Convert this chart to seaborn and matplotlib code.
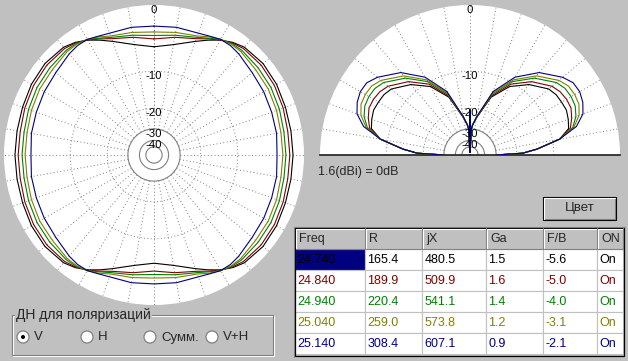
import numpy as np
import matplotlib
matplotlib.use("Agg")
import matplotlib.pyplot as plt
from matplotlib.patches import Rectangle, Circle
import seaborn as sns

# ---------------- data ----------------
freq_labels = ["24.740", "24.840", "24.940", "25.040", "25.140"]
line_colors = ["#000000", "#800000", "#008000", "#808000", "#000080"]

# horizontal pattern, one quadrant (degrees from front), dB
az_angles = [0, 10, 20, 25, 30, 35, 40, 50, 60, 70, 80, 90]
az_db = [
    [-5.6, -5.0, -3.7, -2.9, -2.1, -1.5, -1.1, -0.9, -1.0, -1.2, -1.3, -1.3],
    [-4.4, -3.9, -3.3, -2.7, -2.1, -1.6, -1.3, -1.2, -1.3, -1.5, -1.7, -1.7],
    [-3.9, -3.6, -3.1, -2.6, -2.0, -1.7, -1.6, -1.7, -1.8, -2.0, -2.2, -2.2],
    [-3.4, -3.2, -2.9, -2.4, -2.0, -1.8, -1.8, -2.1, -2.2, -2.4, -2.6, -2.6],
    [-2.6, -2.5, -2.5, -2.3, -2.0, -2.0, -2.2, -2.7, -2.9, -3.1, -3.2, -3.4],
]

# vertical pattern, one side (degrees from zenith), dB
el_angles = [0, 1, 3, 5, 10, 20, 30, 40, 50, 55, 60, 65, 70, 75, 80, 85, 88, 90]
el_db = [
    [-20.5, -70, -30, -27.5, -23.6, -15.3, -11.0, -8.4, -6.5, -6.1, -6.0, -5.9, -6.2, -6.6, -8.6, -13.8, -17.9, -30],
    [-20.5, -70, -30, -27.5, -23.4, -14.9, -10.4, -7.7, -5.8, -5.3, -5.1, -5.1, -5.6, -6.3, -8.6, -13.8, -17.9, -30],
    [-20.5, -70, -30, -27.5, -23.3, -14.4, -9.8, -6.9, -4.9, -4.4, -4.3, -4.4, -4.9, -5.9, -8.6, -13.8, -17.9, -30],
    [-20.5, -70, -30, -27.5, -23.3, -14.1, -9.4, -6.4, -4.4, -3.8, -3.7, -3.8, -4.4, -5.7, -8.6, -13.8, -17.9, -30],
    [-20.5, -70, -30, -27.5, -23.1, -13.7, -8.8, -5.7, -3.7, -3.0, -2.9, -3.2, -3.8, -5.3, -8.6, -13.8, -17.9, -30],
]

ring_dotted = [-10, -20]
ring_solid = [-30, -40, -50]
ring_labels = [0, -10, -20, -30, -40]

col_headers = ["Freq", "R", "jX", "Ga", "F/B", "ON"]
res_r = ["165.4", "189.9", "220.4", "259.0", "308.4"]
res_jx = ["480.5", "509.9", "541.1", "573.8", "607.1"]
gain_ga = ["1.5", "1.6", "1.4", "1.2", "0.9"]
front_back = ["-5.6", "-5.0", "-4.0", "-3.1", "-2.1"]
on_state = ["On", "On", "On", "On", "On"]

ref_text = "1.6(dBi) = 0dB"
button_text = "Цвет"
group_title = "ДН для поляризаций"
radio_labels = ["V", "H", "Сумм.", "V+H"]


def arrl(db):
    # ARRL log scale: 0.89 per 2 dB
    return 0.89 ** (-np.asarray(db, dtype=float) / 2.0)


# ---------------- style ----------------
GRAY = "#C0C0C0"
DARK = "#808080"
sns.set_theme(style="white", rc={"figure.facecolor": GRAY})
plt.rcParams["font.family"] = ["Liberation Sans", "DejaVu Sans"]

W, H = 628, 361
fig = plt.figure(figsize=(W / 100, H / 100), dpi=100)


def setup_polar(ax):
    ax.set_theta_zero_location("N")
    ax.set_theta_direction(-1)
    ax.set_facecolor("white")
    ax.set_ylim(0, 1)
    ax.set_xticks([])
    ax.set_yticks([])
    ax.grid(False)
    for sp in ax.spines.values():
        sp.set_visible(False)


def draw_grid(ax, t0, t1):
    th = np.radians(np.linspace(t0, t1, 361))
    for db in ring_dotted:
        ax.plot(th, np.full_like(th, arrl(db)), color=DARK, lw=0.7, ls=(0, (1, 2.5)))
    for db in ring_solid:
        ax.plot(th, np.full_like(th, arrl(db)), color=DARK, lw=0.8)
    for a in range(t0, t1 + 1, 10):
        if a in (-90, 90) and t1 - t0 < 360:
            continue
        ax.plot([np.radians(a)] * 2, [arrl(-30), 1.0], color=DARK, lw=0.7, ls=(0, (1, 2.5)))
    for db in ring_labels:
        ax.text(0, arrl(db), str(db), ha="center", va="top", fontsize=8.2,
                color="black", clip_on=False, zorder=5)


# ---- left: horizontal pattern ----
ax1 = fig.add_axes([4 / W, (H - 305) / H, 300 / W, 300 / H], projection="polar")
setup_polar(ax1)
draw_grid(ax1, 0, 360)
a = np.array(az_angles, dtype=float)
az_full = np.concatenate([a, 180 - a[::-1], 180 + a, 360 - a[::-1]])
for vals, col in zip(az_db, line_colors):
    v = np.array(vals)
    v_full = np.concatenate([v, v[::-1], v, v[::-1]])
    sns.lineplot(x=np.radians(az_full), y=arrl(v_full), ax=ax1, sort=False,
                 estimator=None, color=col, lw=0.8, zorder=4)
ax1.set_xlabel("")
ax1.set_ylabel("")
ax1.set_ylim(0, 1)

# ---- right: vertical pattern (upper half disc) ----
# half-disc wedge sits in a square box: centre at 1/4 height
ax2 = fig.add_axes([320 / W, (H - 230) / H, 300 / W, 300 / H], projection="polar")
setup_polar(ax2)
ax2.set_thetamin(-90)
ax2.set_thetamax(90)
draw_grid(ax2, -90, 90)
e = np.array(el_angles, dtype=float)
el_full = np.concatenate([-e[::-1], e])
for vals, col in zip(el_db, line_colors):
    v = np.array(vals)
    v_full = np.concatenate([v[::-1], v])
    sns.lineplot(x=np.radians(el_full), y=arrl(v_full), ax=ax2, sort=False,
                 estimator=None, color=col, lw=0.8, zorder=4)
ax2.set_xlabel("")
ax2.set_ylabel("")
ax2.set_ylim(0, 1)

# ---- UI overlay (pixel coordinates) ----
ui = fig.add_axes([0, 0, 1, 1], zorder=10)
ui.set_xlim(0, W)
ui.set_ylim(H, 0)
ui.axis("off")
ui.patch.set_alpha(0)

ui.text(318, 172, ref_text, fontsize=9, va="center", ha="left")

# button
ui.add_patch(Rectangle((543, 197), 73, 23, fc=GRAY, ec="black", lw=0.8))
ui.plot([544, 544, 615], [219, 198, 198], color="white", lw=0.8)
ui.plot([545, 615, 615], [219, 219, 199], color=DARK, lw=0.8)
ui.text(579.5, 208.5, button_text, fontsize=9.5, ha="center", va="center")

# table
col_edges = [295, 365, 422, 486, 543, 597, 623]
top = 228
row_h = 21
columns = [freq_labels, res_r, res_jx, gain_ga, front_back, on_state]
for i, head in enumerate(col_headers):
    x0, x1 = col_edges[i], col_edges[i + 1]
    ui.add_patch(Rectangle((x0, top), x1 - x0, row_h, fc=GRAY, ec="none"))
    ui.plot([x0 + 0.5, x0 + 0.5, x1 - 1], [top + row_h - 1, top + 0.5, top + 0.5], color="white", lw=0.8)
    ui.plot([x0 + 1, x1 - 0.5, x1 - 0.5], [top + row_h - 0.5, top + row_h - 0.5, top], color=DARK, lw=0.8)
    ui.text(x0 + 4, top + row_h / 2 + 0.5, head, fontsize=9, va="center", ha="left")
    for r in range(5):
        y0 = top + row_h * (r + 1)
        fc = "#000080" if (i == 0 and r == 0) else "white"
        ui.add_patch(Rectangle((x0, y0), x1 - x0, row_h, fc=fc, ec=GRAY, lw=0.8))
        tc = "black" if (i == 0 and r == 0) else line_colors[r]
        ui.text(x0 + 2.5, y0 + row_h / 2 + 0.5, columns[i][r], fontsize=9,
                va="center", ha="left", color=tc)
ui.add_patch(Rectangle((294.5, 227.5), 329, 128, fill=False, ec="black", lw=0.9))
ui.plot([293.5, 293.5, 624.5], [356.5, 226.5, 226.5], color=DARK, lw=0.8)

# group box
ui.add_patch(Rectangle((12.5, 315.5), 261, 40, fill=False, ec="white", lw=0.8))
ui.add_patch(Rectangle((11.5, 314.5), 261, 40, fill=False, ec=DARK, lw=0.8))
ui.text(16, 314.5, group_title, fontsize=10, va="center", ha="left",
        bbox=dict(fc=GRAY, ec="none", pad=0.5))
radio_x = [23, 87, 150, 212]
for k, (rx, lab) in enumerate(zip(radio_x, radio_labels)):
    ui.add_patch(Circle((rx, 337), 6, fc="white", ec=DARK, lw=0.9))
    if k == 0:
        ui.add_patch(Circle((rx, 337), 2, fc="black", ec="none"))
    ui.text(rx + 11, 337.5, lab, fontsize=9.5, va="center", ha="left")

fig.savefig("out.png", dpi=100, facecolor=GRAY)
